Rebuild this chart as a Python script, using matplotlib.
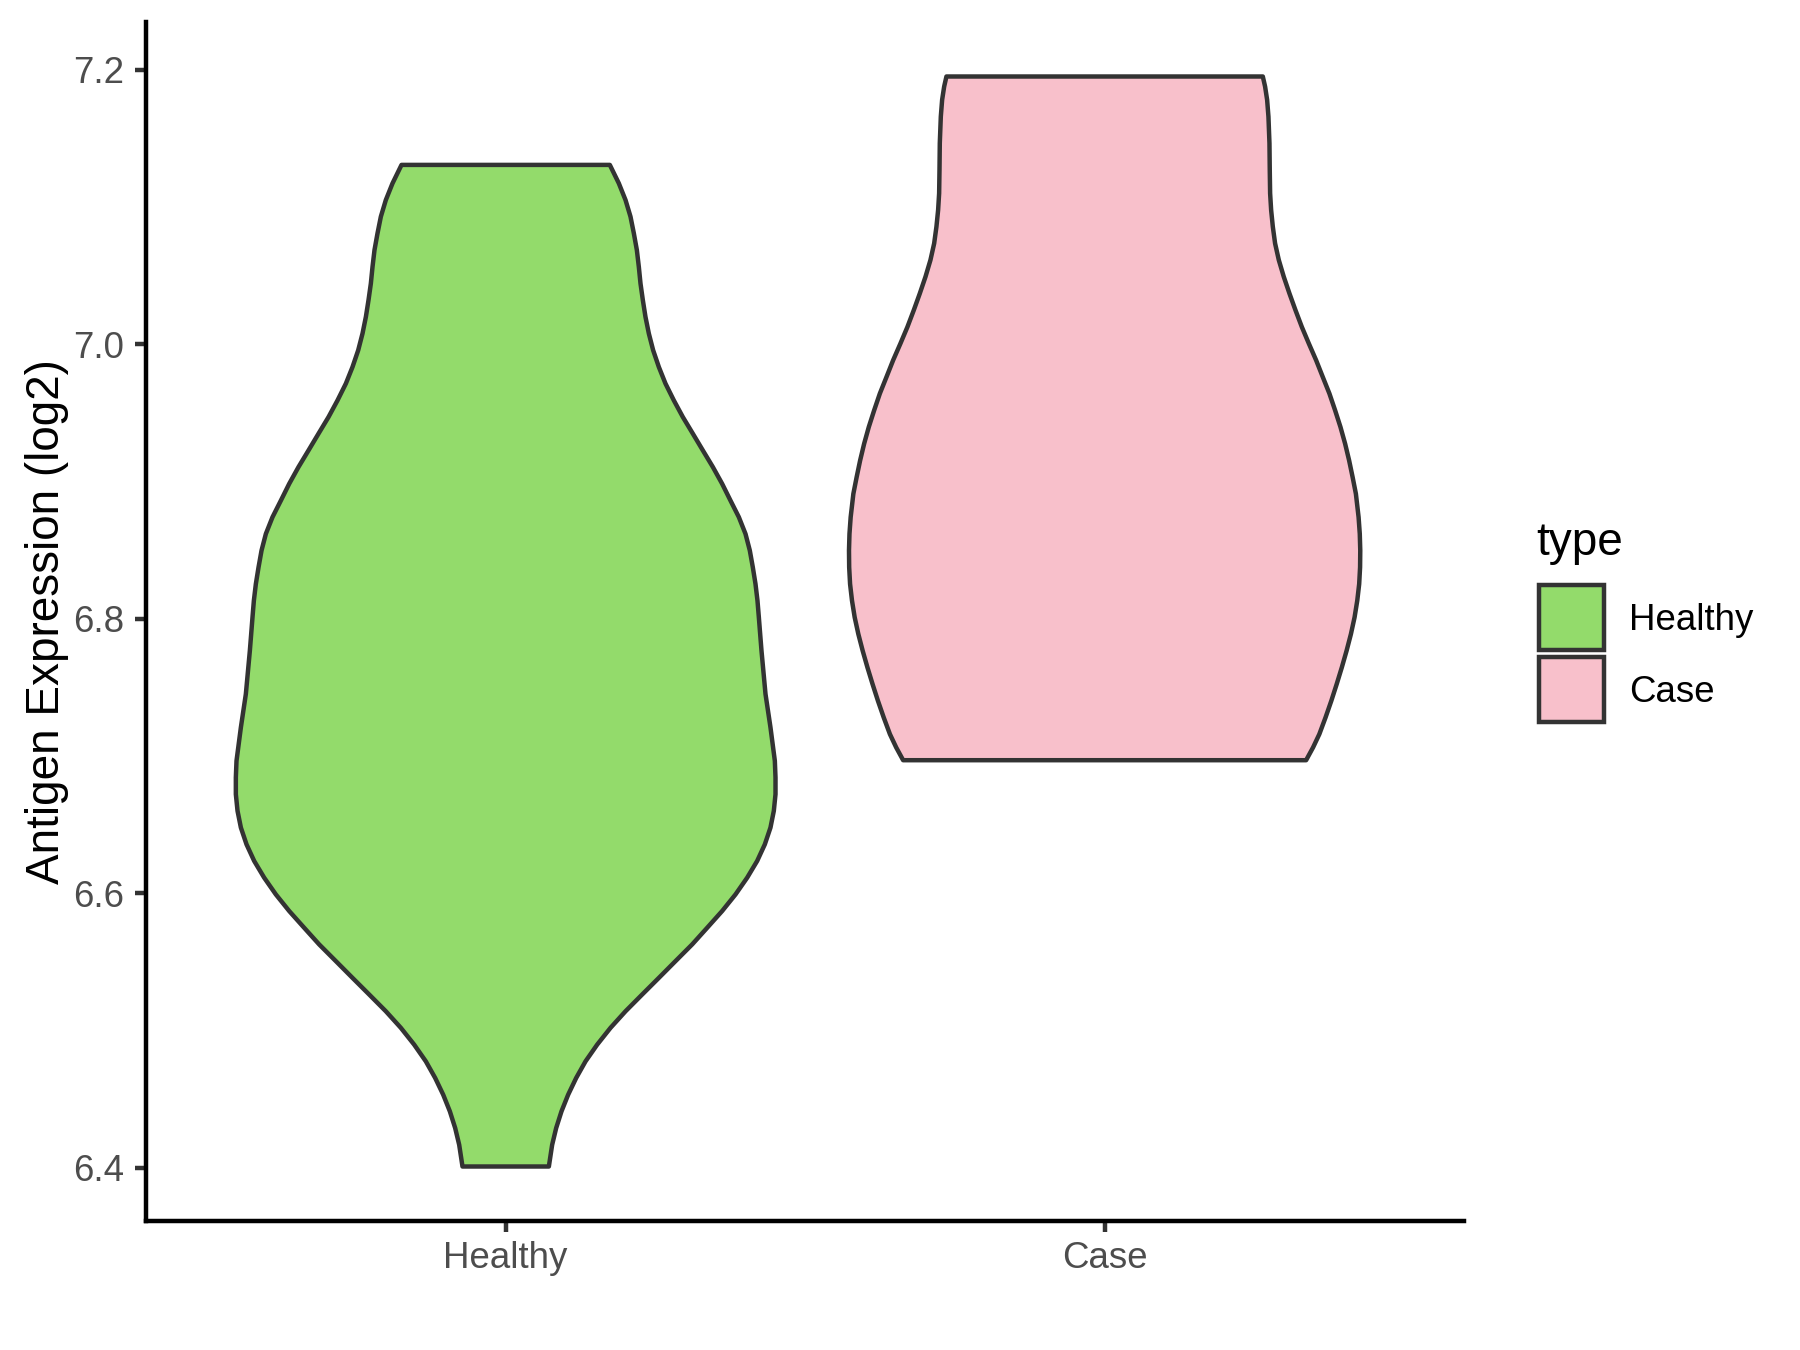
import numpy as np
import matplotlib
matplotlib.use("Agg")
import matplotlib.pyplot as plt
from matplotlib.patches import Rectangle

# ---------------- data ----------------
categories = ["Healthy", "Case"]
fill_colors = ["#93DB6B", "#F8C0CB"]
edge_color = "#333333"

# violin profile: y level and half-width (in x units) of each violin
healthy_y = [7.1307, 7.1173, 7.1051, 7.0930, 7.0808, 7.0687, 7.0565, 7.0443, 7.0322, 7.0200,
             7.0079, 6.9957, 6.9835, 6.9714, 6.9592, 6.9470, 6.9349, 6.9227, 6.9106, 6.8984,
             6.8862, 6.8741, 6.8619, 6.8498, 6.8376, 6.8254, 6.8133, 6.8011, 6.7889, 6.7768,
             6.7452, 6.7209, 6.6965, 6.6844, 6.6722, 6.6601, 6.6479, 6.6357, 6.6236, 6.6114,
             6.5992, 6.5871, 6.5749, 6.5628, 6.5506, 6.5384, 6.5263, 6.5141, 6.5020, 6.4898,
             6.4776, 6.4655, 6.4533, 6.4412, 6.4290, 6.4168, 6.4010]
healthy_halfwidth = [0.1739, 0.1889, 0.2001, 0.2084, 0.2140, 0.2190, 0.2223, 0.2251, 0.2290, 0.2334,
                     0.2390, 0.2462, 0.2557, 0.2668, 0.2807, 0.2958, 0.3125, 0.3292, 0.3459, 0.3614,
                     0.3753, 0.3893, 0.4004, 0.4076, 0.4126, 0.4171, 0.4204, 0.4227, 0.4249, 0.4271,
                     0.4338, 0.4421, 0.4494, 0.4505, 0.4505, 0.4477, 0.4421, 0.4327, 0.4199, 0.4032,
                     0.3837, 0.3614, 0.3364, 0.3114, 0.2835, 0.2557, 0.2279, 0.2001, 0.1750, 0.1528,
                     0.1333, 0.1177, 0.1043, 0.0932, 0.0843, 0.0776, 0.0721]

case_y = [7.1951, 7.1878, 7.1781, 7.1659, 7.1465, 7.1270, 7.1100, 7.0978, 7.0857, 7.0735,
          7.0614, 7.0492, 7.0370, 7.0249, 7.0127, 7.0006, 6.9884, 6.9762, 6.9641, 6.9519,
          6.9398, 6.9276, 6.9154, 6.9033, 6.8911, 6.8741, 6.8619, 6.8498, 6.8376, 6.8254,
          6.8133, 6.8011, 6.7889, 6.7768, 6.7646, 6.7525, 6.7403, 6.7281, 6.7160, 6.7063,
          6.6970]
case_halfwidth = [0.2641, 0.2679, 0.2713, 0.2735, 0.2752, 0.2757, 0.2763, 0.2780, 0.2808, 0.2846,
                  0.2908, 0.2991, 0.3086, 0.3186, 0.3292, 0.3409, 0.3531, 0.3642, 0.3753, 0.3848,
                  0.3937, 0.4015, 0.4082, 0.4140, 0.4195, 0.4240, 0.4260, 0.4268, 0.4265, 0.4250,
                  0.4218, 0.4173, 0.4112, 0.4040, 0.3960, 0.3875, 0.3785, 0.3688, 0.3585, 0.3480,
                  0.3364]

yticks = [6.4, 6.6, 6.8, 7.0, 7.2]
ytick_labels = ["6.4", "6.6", "6.8", "7.0", "7.2"]
ylabel = "Antigen Expression (log2)"
legend_title = "type"

profiles = [(healthy_y, healthy_halfwidth), (case_y, case_halfwidth)]

# ---------------- figure ----------------
plt.rcParams["font.family"] = ["Liberation Sans", "DejaVu Sans"]
W, H = 1800, 1350
fig = plt.figure(figsize=(6, 4.5), dpi=300)
ax = fig.add_axes([146.3 / W, (H - 1221) / H, (1464 - 146.3) / W, (1221 - 22) / H])

LW = 1.07
for i, ((ys, hws), col) in enumerate(zip(profiles, fill_colors)):
    c = i + 1
    ys = np.asarray(ys)
    hws = np.asarray(hws)
    xs = np.concatenate([c - hws, (c + hws)[::-1]])
    yy = np.concatenate([ys, ys[::-1]])
    ax.fill(xs, yy, facecolor=col, edgecolor=edge_color, linewidth=LW,
            joinstyle="round", zorder=2)

# scales (ggplot-like expansion)
all_y = np.concatenate([np.asarray(p[0]) for p in profiles])
lo, hi = all_y.min(), all_y.max()
pad = 0.05 * (hi - lo)
ax.set_ylim(lo - pad, hi + pad)
ax.set_xlim(0.4, len(categories) + 0.6)

ax.set_xticks(range(1, len(categories) + 1))
ax.set_xticklabels(categories)
ax.set_yticks(yticks)
ax.set_yticklabels(ytick_labels)

ax.tick_params(axis="both", direction="out", length=2.75, width=LW,
               color="#333333", labelsize=8.8, labelcolor="#4D4D4D", pad=2.6)
ax.tick_params(axis="x", pad=2.05)

for s in ["top", "right"]:
    ax.spines[s].set_visible(False)
for s in ["left", "bottom"]:
    ax.spines[s].set_linewidth(LW)
    ax.spines[s].set_color("black")

ax.set_ylabel(ylabel, fontsize=11, color="black")
ax.yaxis.set_label_coords((69 - 146.3) / (1464 - 146.3), 0.5)

# ---------------- legend ----------------
def fx(px):
    return px / W

def fy(py):
    return 1 - py / H

fig.text(fx(1536.5), fy(555), legend_title, fontsize=11, ha="left", va="baseline")
key_tops = [585, 657]
label_baselines = [630, 701.7]
for col, name, top, base in zip(fill_colors, categories, key_tops, label_baselines):
    fig.add_artist(Rectangle((fx(1538.5), fy(top + 65)), 65.5 / W, 65 / H,
                             transform=fig.transFigure, facecolor=col,
                             edgecolor=edge_color, linewidth=LW, joinstyle="miter"))
    fig.text(fx(1629.4), fy(base), name, fontsize=8.8, ha="left", va="baseline")

fig.savefig("out.png", dpi=300)
